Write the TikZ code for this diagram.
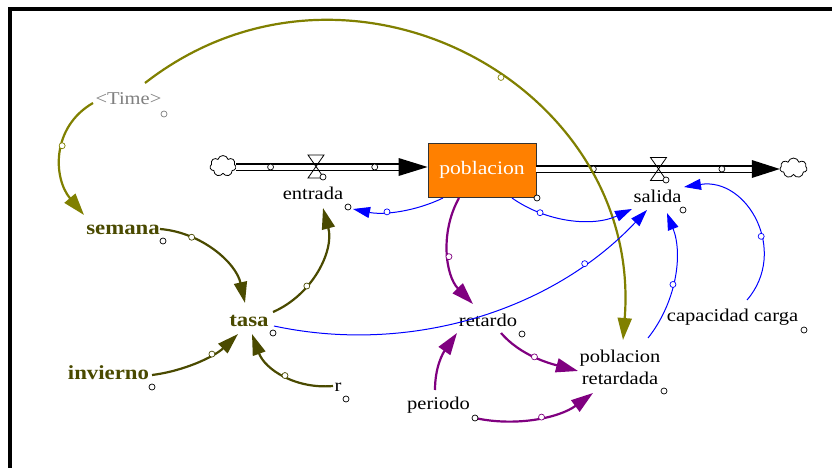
\documentclass[tikz,border=0pt]{standalone}
\usepackage{fontspec}
\setmainfont{Liberation Serif}
\newfontfamily\lbl[FakeStretch=1.14]{Liberation Serif}
\usetikzlibrary{arrows.meta,shapes.symbols}
\definecolor{olv}{HTML}{808000}
\definecolor{dolv}{HTML}{4A4A00}
\definecolor{vblue}{HTML}{0000FF}
\definecolor{vpurple}{HTML}{800080}
\definecolor{orng}{HTML}{FF8000}
\definecolor{tgray}{HTML}{808080}
\begin{document}
\begin{tikzpicture}[x=1pt,y=1pt,
  lab/.style={font=\lbl\fontsize{18}{22}\selectfont, inner sep=0pt},
  blab/.style={font=\lbl\bfseries\fontsize{20}{24}\selectfont, text=dolv, inner sep=0pt},
  hnd/.style={circle, draw=black, fill=white, line width=0.7pt, minimum size=6pt, inner sep=0pt},
  olvarr/.style={draw=olv, line width=2.2pt, -{Triangle[length=22pt,width=14pt]}},
  darr/.style={draw=dolv, line width=2.2pt, -{Triangle[length=21pt,width=13pt]}},
  barr/.style={draw=vblue, line width=1pt, -{Triangle[length=17pt,width=11pt]}},
  parr/.style={draw=vpurple, line width=2.2pt, -{Triangle[length=22pt,width=14pt]}},
  pipe/.style={draw=black, line width=1.2pt, double=white, double distance=5pt},
  cloudbox/.style={cloud, draw=black, fill=white, cloud puffs=7, aspect=1.25, line width=0.8pt, inner sep=0pt},
  valve/.style={draw=black, line width=0.8pt}
]
\useasboundingbox (0,0) rectangle (832,-468);
\fill[white] (0,0) rectangle (832,-468);
\draw[line width=4pt] (10,-468) -- (10,-9) -- (832,-9);

% stock and flows
\node[draw=black!80, fill=orng, line width=0.8pt, minimum width=108pt, minimum height=54pt, inner sep=0pt,
      font=\lbl\fontsize{19}{22}\selectfont, text=white] (pob) at (482,-170) {poblacion};
\node[cloudbox, minimum width=26pt, minimum height=21pt] (cloudL) at (223,-166) {};
\node[cloudbox, minimum width=27pt, minimum height=20pt] (cloudR) at (793.5,-168) {};
\coordinate (pL) at ([yshift=3pt]pob.west);
\coordinate (pR) at ([yshift=1pt]pob.east);
\coordinate (pRe) at (cloudR.west |- pR);
\coordinate (pLs) at (cloudL.east |- pL);
\draw[pipe, shorten >=28pt] (pLs) -- (pL);
\fill ([shift={(-29,9)}]pL) -- (pL) -- ([shift={(-29,-9)}]pL) -- cycle;
\draw[pipe, shorten >=27pt] (pR) -- (pRe);
\fill ([shift={(-28,9)}]pRe) -- (pRe) -- ([shift={(-28,-9)}]pRe) -- cycle;
\path (pLs) -- (pL) node[hnd, pos=0.18] (hp1) {} node[hnd, pos=0.724] (hp2) {};
\path (pR) -- (pRe) node[hnd, pos=0.234] (hp3) {} node[hnd, pos=0.762] (hp4) {};
\coordinate (vIn) at (316,-166.5);
\coordinate (vOut) at (658.5,-169);
\draw[valve] ([shift={(-8,11.5)}]vIn) -- ([shift={(8,11.5)}]vIn) -- ([shift={(-8,-11.5)}]vIn) -- ([shift={(8,-11.5)}]vIn) -- cycle;
\draw[valve] ([shift={(-8,11.5)}]vOut) -- ([shift={(8,11.5)}]vOut) -- ([shift={(-8,-11.5)}]vOut) -- ([shift={(8,-11.5)}]vOut) -- cycle;
\node[hnd] (hvIn) at ([shift={(7,-10.5)}]vIn) {};
\node[hnd] (hvOut) at ([shift={(7.5,-11)}]vOut) {};

% variables
\node[lab] (entrada) at (313,-193.5) {entrada};
\node[lab] (salida) at (657.5,-196.5) {salida};
\node[lab, text=tgray] (Time) at (128.5,-99) {<Time>};
\node[blab] (semana) at (123,-229.5) {semana};
\node[blab] (tasa) at (249,-320.5) {tasa};
\node[blab] (invierno) at (108.5,-372.5) {invierno};
\node[lab] (r) at (338,-387) {r};
\node[lab] (retardo) at (488,-320) {retardo};
\node[lab, align=center] (pret) at (620,-367.5) {poblacion\\retardada};
\node[lab] (periodo) at (438.5,-405.5) {periodo};
\node[lab] (cap) at (732.5,-317.5) {capacidad carga};

% connectors
\draw[olvarr] ([shift={(-35.5,-4)}]Time.center) to[out=210, in=130, looseness=1.1]
   node[hnd, draw=olv, pos=0.43] (h1) {} ([shift={(-39,14.5)}]semana.center);
\draw[olvarr] ([shift={(16.5,16)}]Time.center) to[out=37.9, in=85.5, looseness=1.21]
   node[hnd, draw=olv, pos=0.56] (h2) {} ([shift={(3,27.5)}]pret.center);
\draw[darr] ([shift={(37,0.5)}]semana.center) to[out=-4.6, in=102.6, looseness=0.94]
   node[hnd, draw=dolv, pos=0.27] (h3) {} ([shift={(-4,17.5)}]tasa.center);
\draw[darr] ([shift={(24,8.5)}]tasa.center) to[out=23.6, in=285, looseness=0.97]
   node[hnd, draw=dolv, pos=0.34] (h4) {} ([shift={(10,-14.5)}]entrada.center);
\draw[darr] ([shift={(43.5,-2.5)}]invierno.center) to[out=7.1, in=223.9, looseness=0.87]
   node[hnd, draw=dolv, pos=0.66] (h5) {} ([shift={(-11,-13.5)}]tasa.center);
\draw[darr] ([shift={(-5,1)}]r.center) to[out=185, in=290, looseness=1.0]
   node[hnd, draw=dolv, pos=0.48] (h6) {} ([shift={(3,-13.5)}]tasa.center);
\draw[barr] ([shift={(25,-5.5)}]tasa.center) to[out=-12.1, in=226.7, looseness=0.91]
   node[hnd, draw=vblue, pos=0.8] (h7) {} ([shift={(-10.5,-13.5)}]salida.center);
\draw[barr] ([shift={(-39,-28)}]pob.center) to[out=205.8, in=-11.8, looseness=0.875]
   node[hnd, draw=vblue, pos=0.63] (h8) {} ([shift={(40,-15.5)}]entrada.center);
\draw[barr] ([shift={(30,-28)}]pob.center) to[out=-35.2, in=204.8, looseness=0.91]
   node[hnd, draw=vblue, pos=0.25] (h9) {} ([shift={(-25.5,-12.5)}]salida.center);
\draw[barr] ([shift={(28,29.5)}]pret.center) to[out=51.5, in=291.3, looseness=0.91]
   node[hnd, draw=vblue, pos=0.45] (h10) {} ([shift={(9.5,-16.5)}]salida.center);
\draw[barr] ([shift={(14.5,17.5)}]cap.center) to[out=49.3, in=8.9, looseness=1.27]
   node[hnd, draw=vblue, pos=0.4] (h11) {} ([shift={(26.5,9.5)}]salida.center);
\draw[parr] ([shift={(-23,-28)}]pob.center) to[out=-119.2, in=134.2, looseness=0.945]
   node[hnd, draw=vpurple, pos=0.53] (h12) {} ([shift={(-15,16)}]retardo.center);
\draw[parr] ([shift={(13,-13)}]retardo.center) to[out=-49.2, in=165, looseness=0.886]
   node[hnd, draw=vpurple, pos=0.48] (h13) {} ([shift={(-42,-3.5)}]pret.center);
\draw[parr] ([shift={(-3.5,15.5)}]periodo.center) to[out=90, in=235, looseness=1.0]
   ([shift={(-31,-13)}]retardo.center);
\draw[parr] ([shift={(36.5,-12.5)}]periodo.center) to[out=-12.4, in=216.4, looseness=0.89]
   node[hnd, draw=vpurple, pos=0.54] (h15) {} ([shift={(-27,-25.5)}]pret.center);

% variable handles
\node[hnd] (hEntrada) at (348,-207) {};
\node[hnd] (hPob) at (537,-198) {};
\node[hnd] (hSalida) at (683,-210) {};
\node[hnd, draw=tgray] (hTime) at (164,-114) {};
\node[hnd] (hSemana) at (163,-241) {};
\node[hnd] (hTasa) at (273,-333) {};
\node[hnd] (hInvierno) at (152,-387) {};
\node[hnd] (hR) at (346,-399) {};
\node[hnd] (hRetardo) at (522,-334) {};
\node[hnd] (hPret) at (664,-391) {};
\node[hnd] (hPeriodo) at (475,-418) {};
\node[hnd] (hCap) at (804,-330) {};
\end{tikzpicture}
\end{document}
